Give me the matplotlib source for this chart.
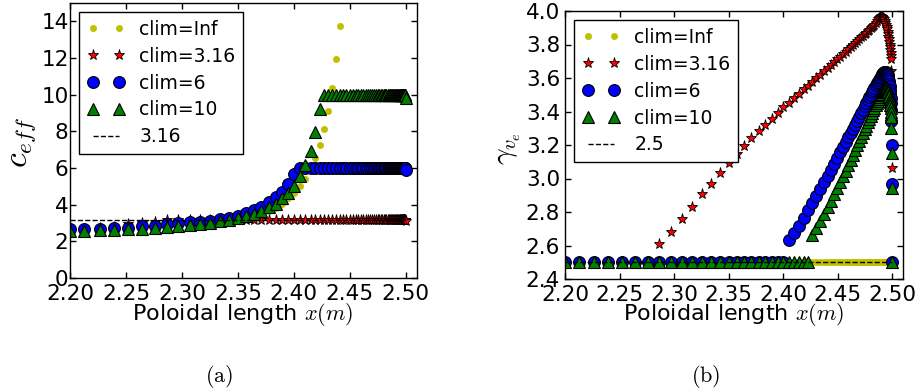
import matplotlib
matplotlib.use('Agg')
import matplotlib.pyplot as plt
from matplotlib.ticker import FormatStrFormatter

plt.rcParams['mathtext.fontset'] = 'cm'
plt.rcParams['font.family'] = ['DejaVu Sans']

# ---------------- data ----------------
x = [2.2000, 2.2128, 2.2265, 2.2395, 2.2522, 2.2645, 2.2762, 2.2866, 2.2968, 2.3070,
     2.3165, 2.3255, 2.3340, 2.3422, 2.3500, 2.3575, 2.3642, 2.3710, 2.3775, 2.3838,
     2.3896, 2.3950, 2.4002, 2.4054, 2.4103, 2.4149, 2.4191, 2.4230, 2.4268, 2.4306,
     2.4343, 2.4378, 2.4409, 2.4441, 2.4470, 2.4499, 2.4526, 2.4552, 2.4576, 2.4600,
     2.4622, 2.4643, 2.4663, 2.4682, 2.4700, 2.4717, 2.4733, 2.4748, 2.4763, 2.4777,
     2.4790, 2.4803, 2.4815, 2.4827, 2.4838, 2.4849, 2.4859, 2.4869, 2.4878, 2.4887,
     2.4895, 2.4903, 2.4911, 2.4918, 2.4925, 2.4932, 2.4938, 2.4944, 2.4949, 2.4954,
     2.4959, 2.4963, 2.4967, 2.4971, 2.4975, 2.4978, 2.4981, 2.4984, 2.4987, 2.4989,
     2.4991, 2.4993, 2.4995, 2.4997, 2.5000]

# panel (a): c_eff  (clim=Inf leaves the plot above 15 after its 33rd point)
ceff_inf = [2.55, 2.57, 2.59, 2.61, 2.63, 2.65, 2.68, 2.72, 2.77, 2.82,
            2.87, 2.93, 3.00, 3.07, 3.15, 3.24, 3.35, 3.48, 3.63, 3.82,
            4.05, 4.35, 4.66, 5.01, 5.41, 5.95, 6.54, 7.25, 8.11, 9.13,
            10.39, 11.92, 13.72]
ceff_316 = [2.65, 2.68, 2.72, 2.80, 2.92, 2.99, 3.08, 3.14,
            3.16, 3.16, 3.16, 3.16, 3.16, 3.16, 3.16, 3.16, 3.16, 3.16,
            3.16, 3.16, 3.16, 3.16, 3.16, 3.16, 3.16, 3.16, 3.16, 3.16,
            3.16, 3.16, 3.16, 3.16, 3.16, 3.16, 3.16, 3.16, 3.16, 3.16,
            3.16, 3.16, 3.16, 3.16, 3.16, 3.16, 3.16, 3.16, 3.16, 3.16,
            3.16, 3.16, 3.16, 3.16, 3.16, 3.16, 3.16, 3.16, 3.16, 3.16,
            3.16, 3.16, 3.16, 3.16, 3.16, 3.16, 3.16, 3.16, 3.16, 3.16,
            3.16, 3.16, 3.16, 3.16, 3.16, 3.16, 3.16, 3.16, 3.16, 3.16,
            3.16, 3.16, 3.16, 3.16, 3.16, 3.16,
            3.10]
ceff_6 = [2.65, 2.69, 2.70, 2.72, 2.75, 2.81, 2.86, 2.93, 2.99, 3.04,
          3.07, 3.12, 3.21, 3.30, 3.40, 3.54, 3.70, 3.90, 4.14, 4.41,
          4.70, 5.12, 5.65,
          6.0, 6.0, 6.0, 6.0, 6.0, 6.0, 6.0, 6.0, 6.0, 6.0,
          6.0, 6.0, 6.0, 6.0, 6.0, 6.0, 6.0, 6.0, 6.0, 6.0,
          6.0, 6.0, 6.0, 6.0, 6.0, 6.0, 6.0, 6.0, 6.0, 6.0,
          6.0, 6.0, 6.0, 6.0, 6.0, 6.0, 6.0, 6.0, 6.0, 6.0,
          6.0, 6.0, 6.0, 6.0, 6.0, 6.0, 6.0, 6.0, 6.0, 6.0,
          6.0, 6.0, 6.0, 6.0, 6.0, 6.0, 6.0, 6.0, 6.0, 6.0,
          6.0,
          5.9]
ceff_10 = [2.57, 2.59, 2.61, 2.63, 2.66, 2.68, 2.72, 2.77, 2.84, 2.90,
           2.95, 3.01, 3.10, 3.17, 3.27, 3.36, 3.49, 3.65, 3.87, 4.06,
           4.34, 4.63, 5.03, 5.54, 6.14, 6.94, 7.97, 9.22,
           10.0, 10.0, 10.0, 10.0, 10.0, 10.0, 10.0, 10.0, 10.0, 10.0,
           10.0, 10.0, 10.0, 10.0, 10.0, 10.0, 10.0, 10.0, 10.0, 10.0,
           10.0, 10.0, 10.0, 10.0, 10.0, 10.0, 10.0, 10.0, 10.0, 10.0,
           10.0, 10.0, 10.0, 10.0, 10.0, 10.0, 10.0, 10.0, 10.0, 10.0,
           10.0, 10.0, 10.0, 10.0, 10.0, 10.0, 10.0, 10.0, 10.0, 10.0,
           10.0, 10.0, 10.0, 10.0, 10.0, 10.0,
           9.8]
ceff_ref = 3.16

# panel (b): gamma_ve
gam_inf = [2.5, 2.5, 2.5, 2.5, 2.5, 2.5, 2.5, 2.5, 2.5, 2.5,
           2.5, 2.5, 2.5, 2.5, 2.5, 2.5, 2.5, 2.5, 2.5, 2.5,
           2.5, 2.5, 2.5, 2.5, 2.5, 2.5, 2.5, 2.5, 2.5, 2.5,
           2.5, 2.5, 2.5, 2.5, 2.5, 2.5, 2.5, 2.5, 2.5, 2.5,
           2.5, 2.5, 2.5, 2.5, 2.5, 2.5, 2.5, 2.5, 2.5, 2.5,
           2.5, 2.5, 2.5, 2.5, 2.5, 2.5, 2.5, 2.5, 2.5, 2.5,
           2.5, 2.5, 2.5, 2.5, 2.5, 2.5, 2.5, 2.5, 2.5, 2.5,
           2.5, 2.5, 2.5, 2.5, 2.5, 2.5, 2.5, 2.5, 2.5, 2.5,
           2.5, 2.5, 2.5, 2.5, 2.5]
gam_316 = [2.5, 2.5, 2.5, 2.5, 2.5, 2.5, 2.5,
           2.607, 2.679, 2.756, 2.832, 2.906, 2.969, 3.033, 3.091, 3.146, 3.196,
           3.240, 3.282, 3.321, 3.357, 3.389, 3.425, 3.453, 3.479, 3.504, 3.532,
           3.554, 3.578, 3.598, 3.618,
           3.640, 3.658, 3.677, 3.695, 3.712, 3.728, 3.744, 3.758, 3.772, 3.785,
           3.798, 3.810, 3.822, 3.833, 3.843, 3.853, 3.862, 3.871, 3.880, 3.888,
           3.896, 3.904, 3.911, 3.918,
           3.930, 3.940, 3.950, 3.958, 3.965, 3.968, 3.967, 3.963, 3.957, 3.950,
           3.940, 3.930, 3.918, 3.905, 3.890, 3.875, 3.860, 3.845, 3.830, 3.815,
           3.800, 3.787, 3.770, 3.751, 3.730, 3.712, 3.642, 3.065, 2.500, 2.500]
gam_6 = [2.5, 2.5, 2.5, 2.5, 2.5, 2.5, 2.5, 2.5, 2.5, 2.5,
         2.5, 2.5, 2.5, 2.5, 2.5, 2.5, 2.5, 2.5, 2.5, 2.5,
         2.5, 2.5, 2.5,
         2.635, 2.673, 2.716, 2.764, 2.810, 2.854, 2.897, 2.939, 2.979, 3.017,
         3.053, 3.088, 3.124, 3.160, 3.190, 3.218,
         3.245, 3.270, 3.295, 3.320, 3.345, 3.368, 3.390, 3.410, 3.430, 3.450,
         3.468, 3.485, 3.500, 3.515, 3.530, 3.543, 3.556, 3.568, 3.579, 3.589,
         3.598, 3.607, 3.615, 3.622, 3.628, 3.633, 3.636, 3.637, 3.635, 3.631,
         3.625, 3.617, 3.607, 3.595, 3.582, 3.567, 3.550, 3.530, 3.508, 3.480,
         3.450, 3.410, 3.345, 3.200, 2.969, 2.500]
gam_10 = [2.5, 2.5, 2.5, 2.5, 2.5, 2.5, 2.5, 2.5, 2.5, 2.5,
          2.5, 2.5, 2.5, 2.5, 2.5, 2.5, 2.5, 2.5, 2.5, 2.5,
          2.5, 2.5, 2.5, 2.5, 2.5, 2.5, 2.5, 2.5,
          2.663, 2.703, 2.746, 2.788, 2.828, 2.867, 2.906, 2.943, 2.977, 3.013,
          3.047, 3.079, 3.110, 3.140, 3.170, 3.200, 3.226,
          3.250, 3.273, 3.295, 3.316, 3.336, 3.355, 3.373, 3.390, 3.406, 3.421,
          3.436, 3.450, 3.463, 3.475, 3.486, 3.497, 3.507, 3.516, 3.524, 3.531,
          3.537, 3.541, 3.544, 3.543, 3.540, 3.534, 3.526, 3.516, 3.504, 3.490,
          3.475, 3.458, 3.440, 3.420, 3.395, 3.365, 3.300, 3.154, 2.941, 2.500]
gam_ref = 2.5

labels = ['clim=Inf', 'clim=3.16', 'clim=6', 'clim=10']
xticks = [2.20, 2.25, 2.30, 2.35, 2.40, 2.45, 2.50]
yticks_a = [0, 2, 4, 6, 8, 10, 12, 14]
yticks_b = [2.4, 2.6, 2.8, 3.0, 3.2, 3.4, 3.6, 3.8, 4.0]

for arr in (ceff_316, ceff_6, ceff_10, gam_inf, gam_316, gam_6, gam_10):
    assert len(arr) == len(x), len(arr)

# ---------------- figure ----------------
W, H = 919, 392
fig = plt.figure(figsize=(W / 100, H / 100), dpi=100)
axL = fig.add_axes([70 / W, 1 - 278 / H, 347 / W, 275 / H])
axR = fig.add_axes([565 / W, 1 - 279 / H, 338 / W, 268 / H])


def draw(ax, yinf, xinf, y316, y6, y10, ref, reflabel):
    ax.plot(xinf, yinf, ls='none', marker='o', ms=4.5, mfc='y', mec='y', mew=0.5, label=labels[0])
    ax.plot(x, y316, ls='none', marker='*', ms=8, mfc='r', mec='k', mew=0.6, label=labels[1])
    ax.plot(x, y6, ls='none', marker='o', ms=8.5, mfc='b', mec='k', mew=0.8, label=labels[2])
    ax.plot(x, y10, ls='none', marker='^', ms=8.5, mfc='g', mec='k', mew=0.8, label=labels[3])
    ax.plot([x[0], x[-1]], [ref, ref], 'k--', lw=1, label=reflabel)
    ax.set_xlim(2.2, 2.51)
    ax.set_xticks(xticks)
    ax.xaxis.set_major_formatter(FormatStrFormatter('%.2f'))
    ax.tick_params(direction='in', length=4.5, width=1, top=True, right=True,
                   labelsize=15.5)
    ax.tick_params(axis='x', pad=4)
    for s in ax.spines.values():
        s.set_linewidth(1)
    leg = ax.legend(loc='upper left', numpoints=2, fontsize=13.5, labelspacing=0.42,
                    fancybox=False, borderpad=0.4, handlelength=2.0,
                    handletextpad=0.8, borderaxespad=0.5, framealpha=1)
    leg.get_frame().set_edgecolor('k')
    leg.get_frame().set_linewidth(1)


draw(axL, ceff_inf, x[:len(ceff_inf)], ceff_316, ceff_6, ceff_10, ceff_ref, '3.16')
axL.set_ylim(0, 15)
axL.set_yticks(yticks_a)
axL.tick_params(axis='y', pad=1)

draw(axR, gam_inf, x, gam_316, gam_6, gam_10, gam_ref, '2.5')
axR.set_ylim(2.4, 4.0)
axR.set_yticks(yticks_b)
axR.yaxis.set_major_formatter(FormatStrFormatter('%.1f'))
axR.tick_params(axis='y', pad=3.5)

# axis labels
fig.text(22 / W, 1 - 142 / H, r'$c_{eff}$', fontsize=24, rotation=90, ha='center', va='center')
fig.text(509 / W, 1 - 148 / H, r'$\gamma_{v_e}$', fontsize=21, rotation=90, ha='center', va='center')
fig.text(243 / W, 1 - 315 / H, r'Poloidal length $x(m)$', fontsize=16, ha='center', va='center')
fig.text(734 / W, 1 - 315 / H, r'Poloidal length $x(m)$', fontsize=16, ha='center', va='center')
fig.text(219 / W, 1 - 377 / H, r'$\mathrm{(a)}$', fontsize=16, ha='center', va='center')
fig.text(706 / W, 1 - 377 / H, r'$\mathrm{(b)}$', fontsize=16, ha='center', va='center')

fig.savefig('out.png', dpi=100)
